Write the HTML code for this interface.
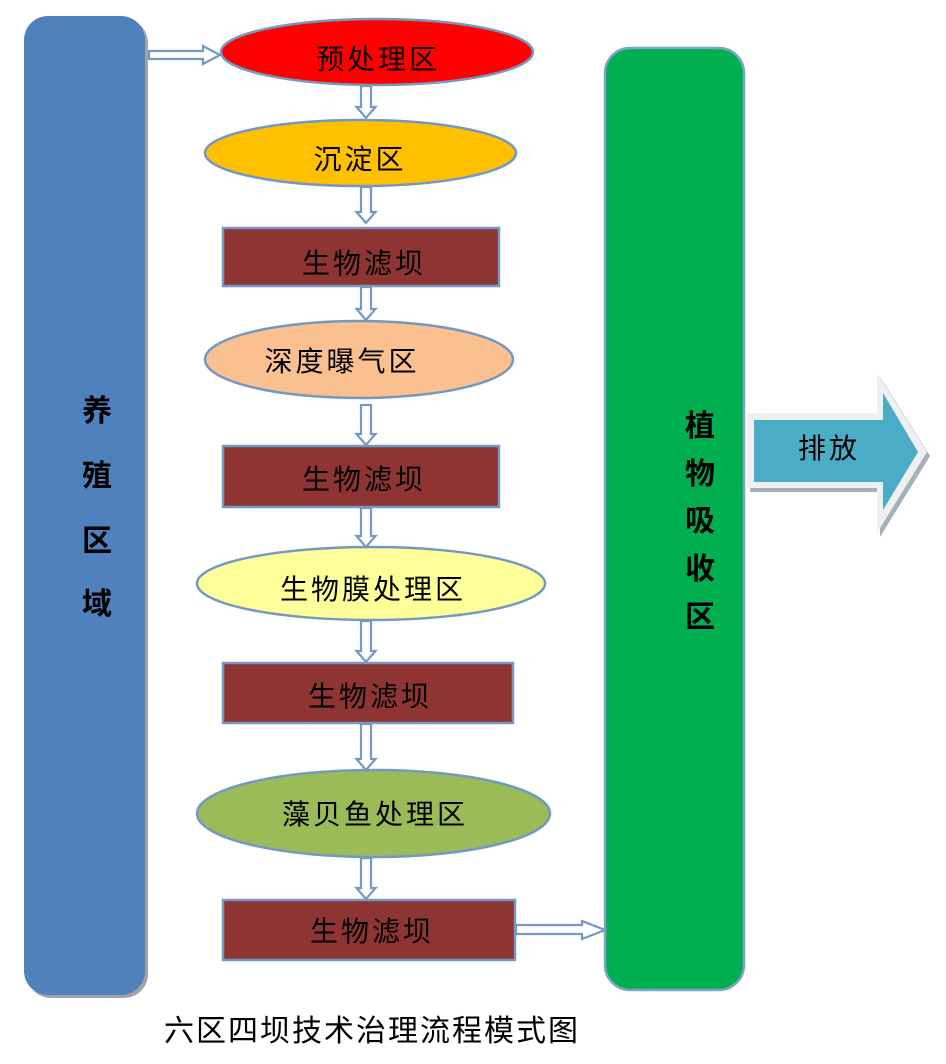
<!DOCTYPE html>
<html>
<head>
<meta charset="utf-8">
<style>
  html, body { margin:0; padding:0; background:#ffffff; }
  body { width:946px; height:1064px; overflow:hidden; }
  svg { display:block; }
  text { font-family: "Liberation Sans", "Noto Sans CJK SC", "WenQuanYi Zen Hei", sans-serif; }
</style>
</head>
<body>
<svg width="946" height="1064" viewBox="0 0 946 1064" xmlns="http://www.w3.org/2000/svg">
  <!-- Left bar (养殖区域) -->
  <rect x="27" y="19" width="121" height="979" rx="24" ry="24" fill="#a0a4a8"/>
  <rect x="24" y="16" width="121" height="979" rx="24" ry="24" fill="#4f81bd"/>
  <g font-size="30" font-weight="bold" fill="#000" text-anchor="middle">
    <text x="97" y="421">养</text>
    <text x="97" y="486">殖</text>
    <text x="97" y="551">区</text>
    <text x="97" y="614">域</text>
  </g>

  <!-- Right green bar (植物吸收区) -->
  <rect x="605" y="48" width="139" height="942" rx="25" ry="25" fill="#00b050" stroke="#7ba3cc" stroke-width="2.5"/>
  <g font-size="30" font-weight="bold" fill="#000" text-anchor="middle">
    <text x="700" y="436">植</text>
    <text x="700" y="484">物</text>
    <text x="700" y="531">吸</text>
    <text x="700" y="579">收</text>
    <text x="700" y="627">区</text>
  </g>

  <!-- Output arrow 排放 -->
  <polygon points="750,417 880,417 880,377 930,456 880,537 880,492 750,492" fill="#a3b1b8"/>
  <polygon points="747,413 877,413 877,373 927,452 877,533 877,488 747,488" fill="#f0f0f0"/>
  <polygon points="754,420 883,420 883,393 918,452 883,510 883,482 754,482" fill="#4bacc6"/>
  <text x="829" y="458" font-size="28" fill="#000" text-anchor="middle" letter-spacing="3">排放</text>

  <!-- Nodes -->
  <g stroke="#7398c4" stroke-width="2.5">
    <ellipse cx="377" cy="52" rx="156" ry="33" fill="#ff0000"/>
    <ellipse cx="360.5" cy="153" rx="155.5" ry="33" fill="#ffc000"/>
    <rect x="223" y="228" width="276" height="58" fill="#8e3433"/>
    <ellipse cx="359" cy="359.5" rx="154" ry="38.5" fill="#fac090"/>
    <rect x="223" y="446" width="276" height="61" fill="#8e3433"/>
    <ellipse cx="371" cy="583.5" rx="174" ry="36.5" fill="#ffff99"/>
    <rect x="223" y="663" width="290" height="60" fill="#8e3433"/>
    <ellipse cx="373.5" cy="813.5" rx="176.5" ry="43.5" fill="#9bbb59"/>
    <rect x="223" y="900" width="292" height="60" fill="#8e3433"/>
  </g>

  <g font-size="28" fill="#000" text-anchor="middle" letter-spacing="3">
    <text x="378" y="69">预处理区</text>
    <text x="360" y="169">沉淀区</text>
    <text x="364" y="273">生物滤坝</text>
    <text x="342" y="371">深度曝气区</text>
    <text x="364" y="489">生物滤坝</text>
    <text x="373" y="599">生物膜处理区</text>
    <text x="370" y="706">生物滤坝</text>
    <text x="375" y="824">藻贝鱼处理区</text>
    <text x="372" y="941">生物滤坝</text>
  </g>

  <!-- Connectors (hollow arrows) -->
  <g fill="#ffffff" stroke="#7398c4" stroke-width="2.2" stroke-linejoin="miter">
    <polygon points="149,51 203,51 203,46 220,55 203,64 203,59 149,59"/>
    <polygon points="516,925 582,925 582,921 605,930 582,939 582,934 516,934"/>
    <polygon points="361,86 371,86 371,107 375.5,107 366,118 356.5,107 361,107"/>
    <polygon points="361,187 371,187 371,212 375.5,212 366,223 356.5,212 361,212"/>
    <polygon points="361,287 371,287 371,309 375.5,309 366,320 356.5,309 361,309"/>
    <polygon points="361,405 371,405 371,434 375.5,434 366,445 356.5,434 361,434"/>
    <polygon points="361,508 371,508 371,536 375.5,536 366,547 356.5,536 361,536"/>
    <polygon points="361,621 371,621 371,651 375.5,651 366,662 356.5,651 361,651"/>
    <polygon points="361,724 371,724 371,759 375.5,759 366,770 356.5,759 361,759"/>
    <polygon points="361,858 371,858 371,888 375.5,888 366,899 356.5,888 361,888"/>
  </g>

  <!-- Title -->
  <text x="372" y="1041" font-size="30" fill="#000" text-anchor="middle" letter-spacing="2">六区四坝技术治理流程模式图</text>
</svg>
</body>
</html>
